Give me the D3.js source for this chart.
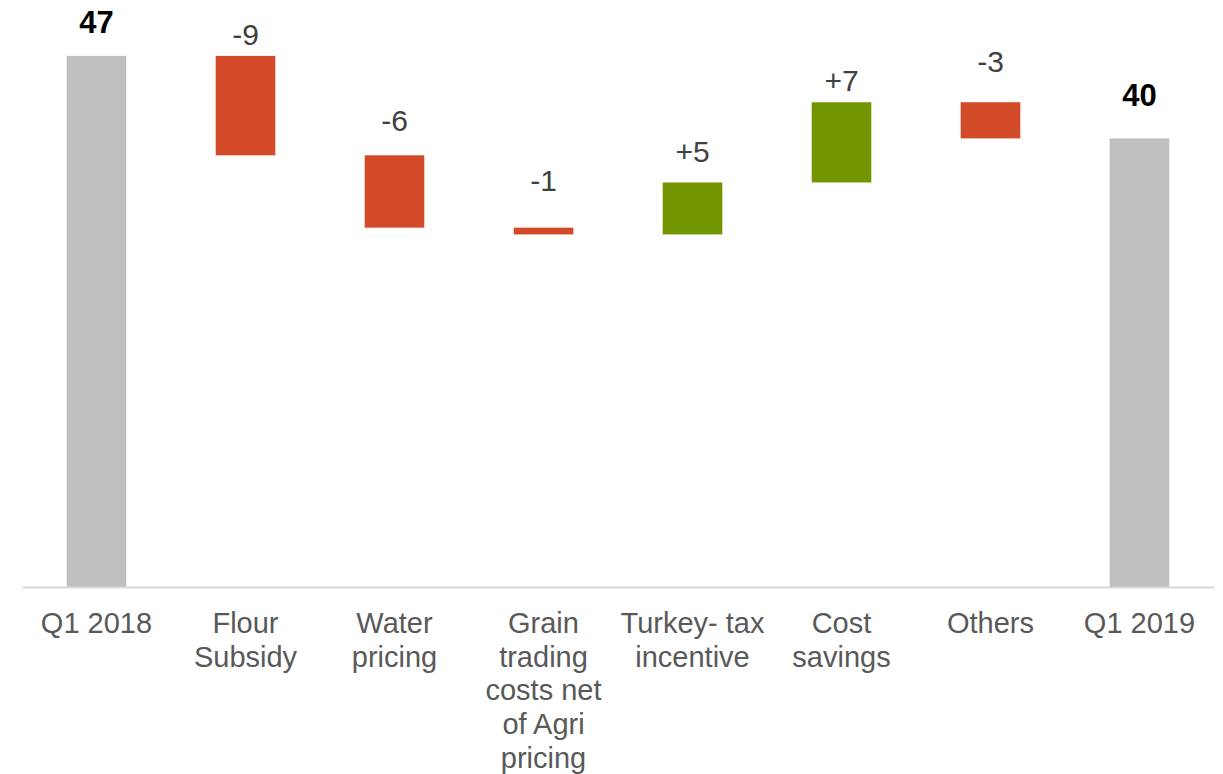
<!DOCTYPE html>
<html>
<head>
<meta charset="utf-8">
<script src="https://cdn.jsdelivr.net/npm/d3@7"></script>
<style>
  body { margin: 0; background: #fff; }
  svg { display: block; font-family: "Liberation Sans", Arial, sans-serif; }
</style>
</head>
<body>
<script>
// waterfall data
var categories = ["Q1 2018", "Flour Subsidy", "Water pricing", "Grain trading costs net of Agri pricing",
                  "Turkey- tax incentive", "Cost savings", "Others", "Q1 2019"];
var startValue = 47;
var changes = [-8.8, -6.4, -0.6, 4.6, 7.1, -3.2];
var endLabel = "40";

// layout tweaks: distance from bar top to label baseline (px)
var labelGap = [23, 11, 24, 37, 20, 11, 30, 32];

var width = 1223, height = 774;
var svg = d3.select("body").append("svg")
    .attr("width", width)
    .attr("height", height);

var x = d3.scaleBand()
    .domain(categories)
    .range([22, 1214])
    .paddingInner(0.6)
    .paddingOuter(0.3);

var y = d3.scaleLinear()
    .domain([0, 50])
    .range([587, 22]);

// build the bars
var bars = [];
var running = startValue;
bars.push({cat: categories[0], y0: 0, y1: startValue, type: "total", label: String(startValue)});
changes.forEach(function(c, i) {
  var next = running + c;
  bars.push({
    cat: categories[i + 1],
    y0: Math.min(running, next),
    y1: Math.max(running, next),
    type: c < 0 ? "neg" : "pos",
    label: (c > 0 ? "+" : "") + Math.round(c)
  });
  running = next;
});
bars.push({cat: categories[categories.length - 1], y0: 0, y1: running, type: "total", label: endLabel});

var colors = {total: "#bfbfbf", neg: "#d24a28", pos: "#739600"};

svg.selectAll("rect.bar")
    .data(bars)
  .enter().append("rect")
    .attr("class", "bar")
    .attr("x", function(d) { return x(d.cat); })
    .attr("width", x.bandwidth())
    .attr("y", function(d) { return y(d.y1); })
    .attr("height", function(d) { return y(d.y0) - y(d.y1); })
    .attr("fill", function(d) { return colors[d.type]; });

// x axis
var axis = svg.append("g")
    .attr("transform", "translate(0," + y(0) + ")")
    .call(d3.axisBottom(x).tickSize(0).tickSizeOuter(0).tickFormat(""));
axis.select(".domain").attr("stroke", "#d9d9d9").attr("stroke-width", 2);

// category labels, wrapped to the band step
var measure = svg.append("text").style("font-size", "29px").attr("visibility", "hidden");
function textWidth(s) { measure.text(s); return measure.node().getComputedTextLength(); }

categories.forEach(function(cat) {
  var words = cat.split(" "), lines = [], line = "";
  words.forEach(function(w) {
    var test = line ? line + " " + w : w;
    if (line && textWidth(test) > 146.5) { lines.push(line); line = w; }
    else line = test;
  });
  lines.push(line);
  var t = svg.append("text")
      .attr("text-anchor", "middle")
      .attr("fill", "#595959")
      .style("font-size", "29px");
  lines.forEach(function(l, i) {
    t.append("tspan")
      .attr("x", x(cat) + x.bandwidth() / 2)
      .attr("y", 633 + i * 33.7)
      .text(l);
  });
});
measure.remove();

// value labels
svg.selectAll("text.val")
    .data(bars)
  .enter().append("text")
    .attr("class", "val")
    .attr("text-anchor", "middle")
    .attr("x", function(d) { return x(d.cat) + x.bandwidth() / 2; })
    .attr("y", function(d, i) { return y(d.y1) - labelGap[i]; })
    .attr("fill", function(d) { return d.type === "total" ? "#000" : "#404040"; })
    .style("font-size", function(d) { return d.type === "total" ? "31px" : "30px"; })
    .style("font-weight", function(d) { return d.type === "total" ? "bold" : "normal"; })
    .text(function(d) { return d.label; });
</script>
</body>
</html>
